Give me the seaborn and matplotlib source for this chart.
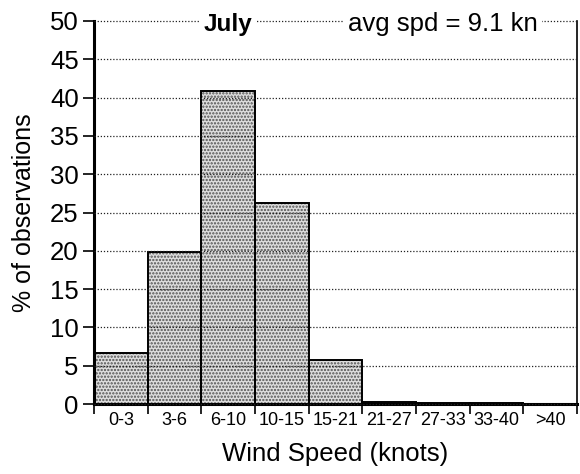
import matplotlib
matplotlib.use("Agg")
import matplotlib.pyplot as plt
import seaborn as sns
import pandas as pd
import numpy as np

categories = ['0-3', '3-6', '6-10', '10-15', '15-21', '21-27', '27-33', '33-40', '>40']
percent = [6.6, 19.8, 40.8, 26.3, 5.8, 0.25, 0.15, 0.1, 0.05]
y_ticks = [0, 5, 10, 15, 20, 25, 30, 35, 40, 45, 50]
title_text = "July"
avg_text = "avg spd = 9.1 kn"
x_label = "Wind Speed (knots)"
y_label = "% of observations"

sns.set_style("white")
plt.rcParams['font.family'] = ['Liberation Sans', 'DejaVu Sans']
plt.rcParams['hatch.linewidth'] = 1.1
plt.rcParams['text.color'] = 'black'
plt.rcParams['axes.labelcolor'] = 'black'
plt.rcParams['xtick.color'] = 'black'
plt.rcParams['ytick.color'] = 'black'

df = pd.DataFrame({"cat": categories, "pct": percent})

fig = plt.figure(figsize=(5.8, 4.74), dpi=100)
ax = fig.add_axes([94/580, 1-404/474, (577-94)/580, (404-21)/474])

sns.barplot(data=df, x="cat", y="pct", ax=ax, width=1.0, color="#dedede",
            edgecolor="#505050", linewidth=0, saturation=1, zorder=1)
for p in ax.patches:
    p.set_hatch(".....")
sns.barplot(data=df, x="cat", y="pct", ax=ax, width=1.0, fill=False,
            color="black", linewidth=1.4, zorder=2)

ax.set_xlim(-0.5, len(categories) - 0.5)
ax.set_ylim(0, 50)
ax.set_yticks(y_ticks)
ax.set_yticklabels([str(v) for v in y_ticks], fontsize=18.5)
ax.set_xticks(range(len(categories)))
ax.set_xticklabels(categories, fontsize=13)
ax.set_xticks(np.arange(-0.5, len(categories) + 0.5, 1.0), minor=True)
ax.tick_params(axis='x', which='major', bottom=True, length=0, pad=6, labelcolor='black')
ax.tick_params(axis='x', which='minor', bottom=True, length=7, width=1.2, direction='out', color='black')
ax.tick_params(axis='y', which='major', left=True, length=8, width=1.2, direction='out',
               color='black', pad=3, labelcolor='black')

ax.set_axisbelow(False)
ax.yaxis.grid(True, linestyle=(0, (1, 1.5)), color='#222222', linewidth=0.9, zorder=3)
for gl in ax.get_ygridlines():
    gl.set_clip_on(False)
ax.xaxis.grid(False)

for side in ['left', 'bottom']:
    ax.spines[side].set_linewidth(2.2)
    ax.spines[side].set_color('black')
ax.spines['right'].set_linewidth(1.2)
ax.spines['right'].set_color('black')
ax.spines['top'].set_visible(False)

ax.set_xlabel(x_label, fontsize=18.5, labelpad=9, color='black')
ax.set_ylabel(y_label, fontsize=18, labelpad=10, color='black')

box = dict(facecolor='white', edgecolor='none', pad=3)
fig.text(228/580, 1-24/474, title_text, fontsize=17.5, fontweight='bold', color='black',
         ha='center', va='center', bbox=box, zorder=10)
fig.text(443/580, 1-24/474, avg_text, fontsize=18.5, color='black',
         ha='center', va='center', bbox=box, zorder=10)

fig.savefig("out.png", dpi=100)
